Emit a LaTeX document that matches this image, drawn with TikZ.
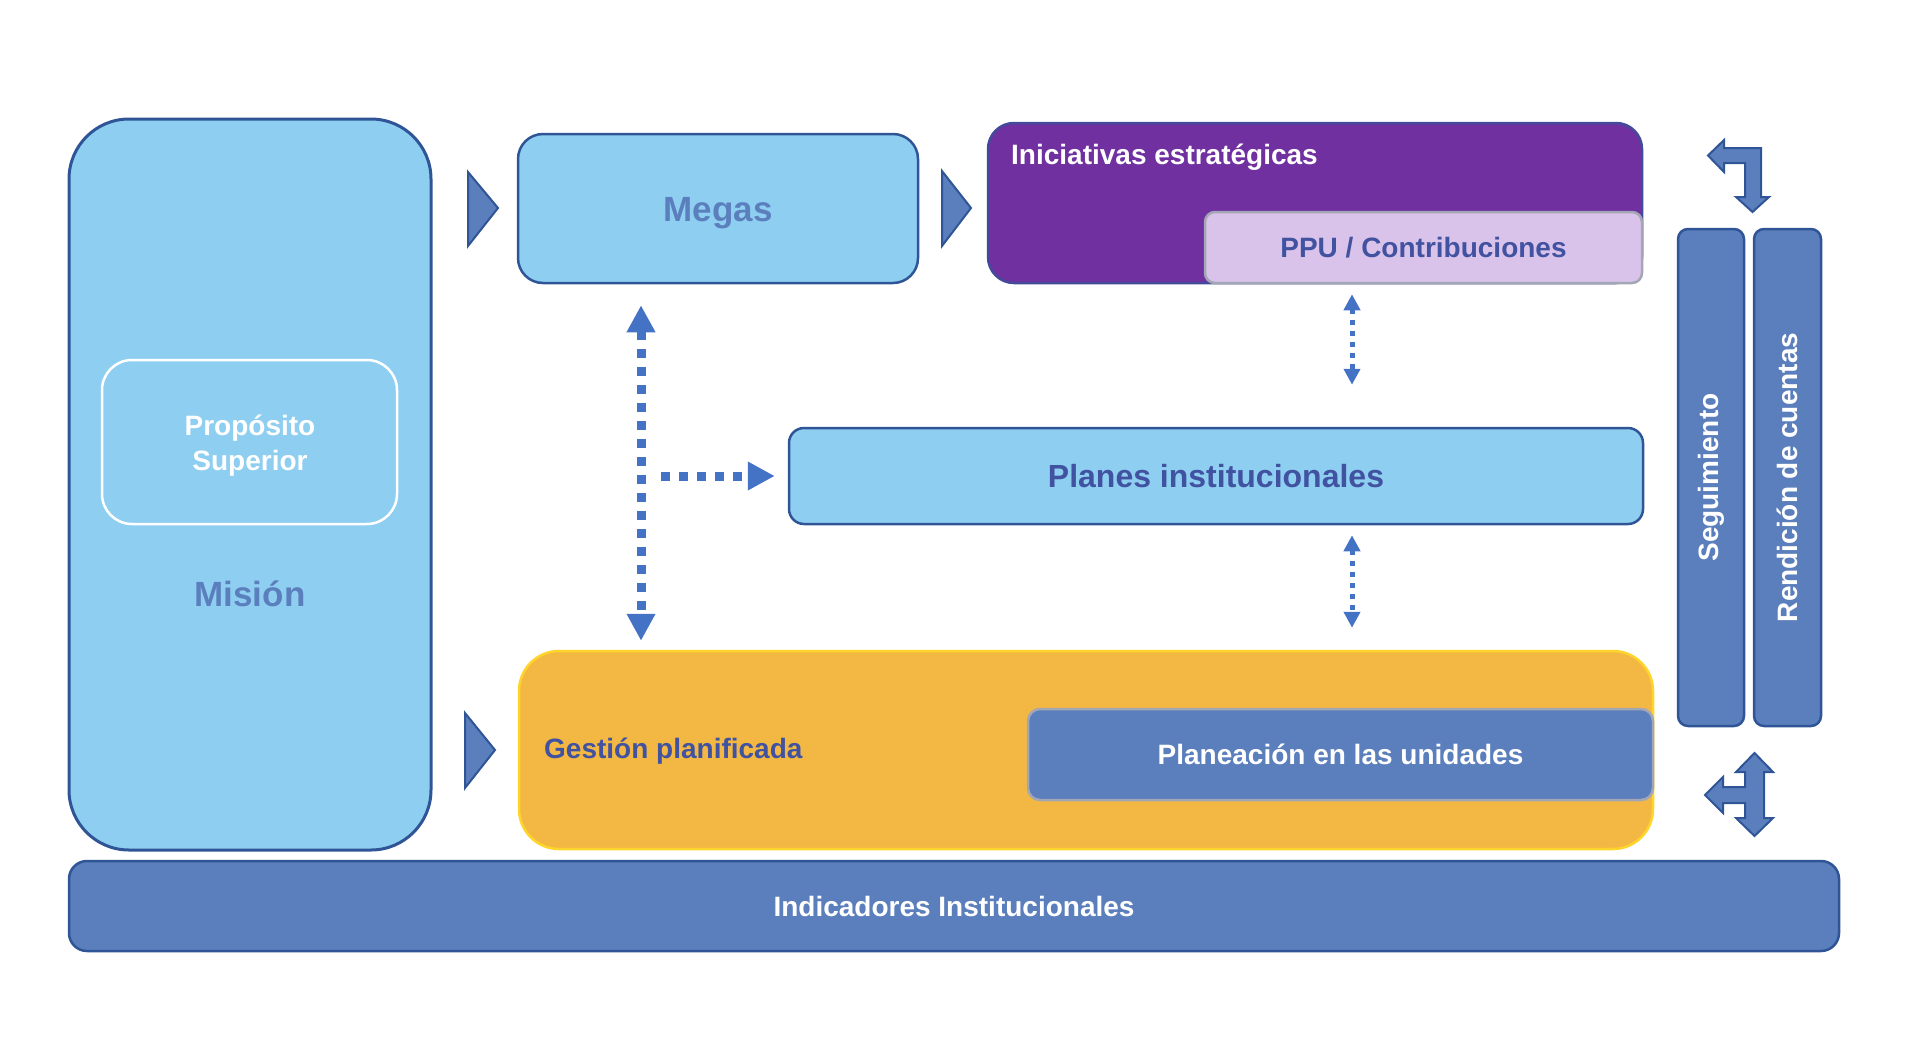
\documentclass[tikz,border=0pt]{standalone}
\usepackage{fontspec}
\setmainfont{Liberation Sans}
\usetikzlibrary{arrows.meta}
\definecolor{skyfill}{HTML}{8ECEF1}
\definecolor{edgeblue}{HTML}{2F5597}
\definecolor{midblue}{HTML}{5B7FBD}
\definecolor{txtblue}{HTML}{4152A0}
\definecolor{dotblue}{HTML}{4472C4}
\definecolor{purplefill}{HTML}{7030A0}
\definecolor{lavender}{HTML}{DAC3EA}
\definecolor{orangefill}{HTML}{F2B843}
\definecolor{yellowedge}{HTML}{FFD52B}
\definecolor{grayedge}{HTML}{A3A6B4}
\begin{document}
\begin{tikzpicture}[x=1pt,y=-1pt,
    box/.style={draw=edgeblue,line width=2.5pt,inner sep=0pt,align=center,
      font=\bfseries\fontsize{28}{34}\selectfont},
    sky/.style={box,fill=skyfill},
    band/.style={box,fill=midblue,text=white},
    tri/.style={fill=midblue,draw=edgeblue,line width=2pt,line join=miter},
    bigdot/.style={dotblue,line width=9pt,dash pattern=on 9pt off 9pt,
      -{Triangle[width=27pt,length=27pt]}},
    smalldot/.style={dotblue,line width=5pt,dash pattern=on 5pt off 6pt,
      {Triangle[width=16pt,length=16pt]}-{Triangle[width=16pt,length=16pt]}}]
  \useasboundingbox (0,0) rectangle (1906,1047);

  \node[sky,line width=3pt,rounded corners=60pt,minimum width=362pt,minimum height=731pt] (mision) at (250,484.5) {};
  \node[box,draw=white,fill=skyfill,rounded corners=30pt,minimum width=295pt,minimum height=164pt] (proposito) at (249.5,442) {};
  \node[text=white,align=center,font=\bfseries\fontsize{28}{35}\selectfont] (propositolbl) at (250,446) {Propósito\\Superior};
  \node[text=midblue,font=\bfseries\fontsize{35}{42}\selectfont] (misionlbl) at (250,594) {Misión};

  \node[sky,text=midblue,rounded corners=25pt,minimum width=400pt,minimum height=149pt,text height=25pt,text depth=0pt,
    font=\bfseries\fontsize{35}{42}\selectfont] (megas) at (718,208.5) {Megas};

  \node[box,draw=edgeblue!70!purplefill,fill=purplefill,rounded corners=26pt,minimum width=654pt,minimum height=160pt] (inic) at (1315,203) {};
  \node[text=white,font=\bfseries\fontsize{28}{34}\selectfont,anchor=west,inner sep=0pt] (iniclbl) at (1011,157) {Iniciativas estratégicas};
  \node[box,draw=grayedge,fill=lavender,text=txtblue,rounded corners=10pt,minimum width=437pt,minimum height=71pt] (ppu) at (1423.5,247.5) {PPU / Contribuciones};

  \node[sky,text=txtblue,rounded corners=15pt,minimum width=854pt,minimum height=96pt,
    font=\bfseries\fontsize{32}{38}\selectfont] (planes) at (1216,476) {Planes institucionales};

  \node[box,draw=yellowedge,fill=orangefill,rounded corners=40pt,minimum width=1134pt,minimum height=198pt] (gestion) at (1086,750) {};
  \node[text=txtblue,font=\bfseries\fontsize{28}{34}\selectfont,anchor=west,inner sep=0pt] (gestionlbl) at (544,751) {Gestión planificada};
  \node[band,draw=grayedge,rounded corners=12pt,minimum width=625pt,minimum height=91pt] (planeac) at (1340.5,754.5) {Planeación en las unidades};

  \node[band,rounded corners=18pt,minimum width=1770pt,minimum height=90pt] (indic) at (954,906) {Indicadores Institucionales};

  \node[band,rotate=90,rounded corners=10pt,minimum width=497pt,minimum height=66pt] (seg) at (1711,477.5) {Seguimiento};
  \node[band,rotate=90,rounded corners=10pt,minimum width=497pt,minimum height=67pt] (rend) at (1787.5,477.5) {Rendición de cuentas};

  \draw[tri] (468,172) -- (498,208) -- (468,246) -- cycle;
  \draw[tri] (942,171) -- (971,208) -- (942,246) -- cycle;
  \draw[tri] (465,713) -- (495,750) -- (465,788) -- cycle;

  \draw[tri] (1708,155.5) -- (1724,140) -- (1724,148) -- (1761,148) -- (1761,197) -- (1769,197)
    -- (1752.5,212) -- (1736,197) -- (1745,197) -- (1745,163) -- (1724,163) -- (1724,172) -- cycle;
  \draw[tri] (1705,795) -- (1723,777) -- (1723,787) -- (1745,787) -- (1745,772) -- (1736,772)
    -- (1754.5,753) -- (1773,772) -- (1764,772) -- (1764,818) -- (1773,818) -- (1754.5,836)
    -- (1736,818) -- (1745,818) -- (1745,803) -- (1723,803) -- (1723,813) -- cycle;

  \coordinate (vx) at (641,0);
  \coordinate (sx) at (1352,0);
  \draw[bigdot,{Triangle[width=27pt,length=27pt]}-{Triangle[width=27pt,length=27pt]},
    shorten <=21pt,shorten >=9pt] (megas.south -| vx) -- (gestion.north -| vx);
  \draw[bigdot,shorten <=20pt,shorten >=13pt] (planes.west -| vx) -- (planes.west);
  \draw[smalldot,shorten <=10pt,shorten >=42pt] (ppu.south -| sx) -- (planes.north -| sx);
  \draw[smalldot,shorten <=10pt,shorten >=22pt] (planes.south -| sx) -- (gestion.north -| sx);
\end{tikzpicture}
\end{document}
